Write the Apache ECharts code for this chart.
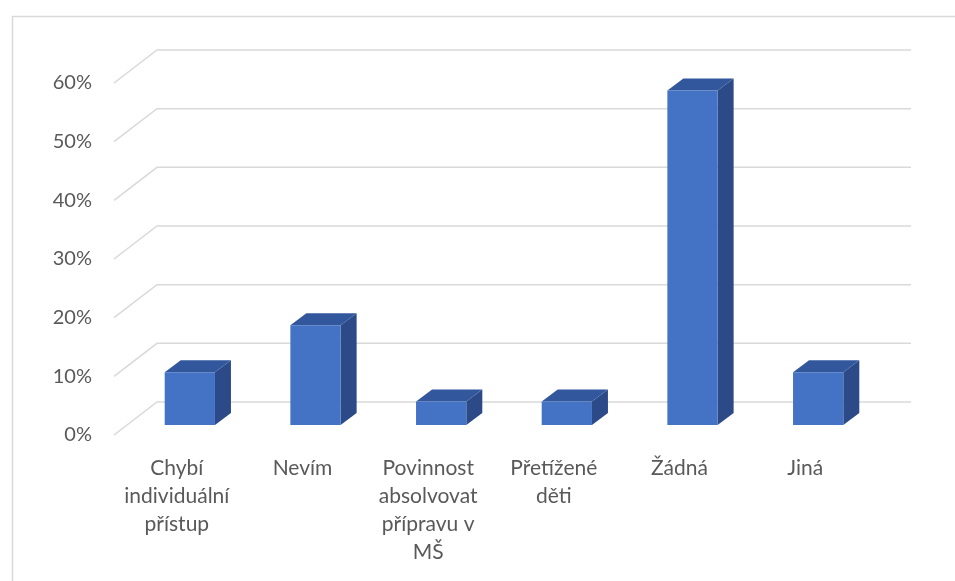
<!DOCTYPE html>
<html>
<head>
<meta charset="utf-8">
<script src="https://cdn.jsdelivr.net/npm/echarts@6/dist/echarts.min.js"></script>
<style>
html,body{margin:0;padding:0;background:#fff;}
#chart{width:955px;height:581px;}
</style>
</head>
<body>
<div id="chart"></div>
<script>
// Data
const categories = ['Chybí\nindividuální\npřístup', 'Nevím', 'Povinnost\nabsolvovat\npřípravu v\nMŠ', 'Přetížené\nděti', 'Žádná', 'Jiná'];
const values = [9, 17, 4, 4, 57, 9];
const yTicks = [0, 10, 20, 30, 40, 50, 60];

const FONT = 'Lato';
const TXT = '#595959';
const GRID_C = '#d9d9d9';
// 3D geometry (pixels)
const WALL_DX = 43, WALL_DY = -33;   // full floor depth
const BAR_DX = 13, BAR_DY = -10;     // bar front offset
const BAR_DEPTH_X = 16, BAR_DEPTH_Y = -12;

const chart = echarts.init(document.getElementById('chart'), null, {renderer: 'canvas'});

const option = {
  animation: false,
  backgroundColor: '#ffffff',
  graphic: [{
    type: 'rect',
    left: 10, top: 14,
    shape: {width: 1000, height: 700},
    style: {fill: 'none', stroke: GRID_C, lineWidth: 1.5},
    z: -10
  }],
  grid: {left: 114, right: 87, top: 83, bottom: 146, containLabel: false},
  xAxis: {
    type: 'category',
    data: categories,
    boundaryGap: true,
    axisLine: {show: false},
    axisTick: {show: false},
    axisLabel: {
      interval: 0,
      margin: 19,
      color: TXT,
      fontFamily: FONT,
      fontSize: 21,
      lineHeight: 28,
      align: 'center'
    },
    splitLine: {show: false}
  },
  yAxis: {
    type: 'value',
    min: 0, max: 60, interval: 10,
    axisLine: {show: false},
    axisTick: {show: false},
    splitLine: {show: false},
    axisLabel: {
      formatter: '{value}%',
      margin: 22,
      color: TXT,
      fontFamily: FONT,
      fontSize: 20
    }
  },
  series: [
    {
      type: 'custom',
      name: 'grid',
      silent: true,
      data: yTicks.map(v => [0, v]),
      encode: {x: 0, y: 1},
      renderItem: function (params, api) {
        const v = api.value(1);
        const bw = api.size([1, 0])[0];
        const p0 = api.coord([0, v]);
        const pN = api.coord([categories.length - 1, v]);
        const xL = p0[0] - bw / 2;
        const xR = pN[0] + bw / 2;
        const y = p0[1];
        return {
          type: 'polyline',
          shape: {points: [[xL, y], [xL + WALL_DX, y + WALL_DY], [xR + WALL_DX, y + WALL_DY]]},
          style: {stroke: GRID_C, lineWidth: 1.5, fill: 'none'}
        };
      },
      z: 1
    },
    {
      type: 'custom',
      name: 'bars',
      data: values.map((v, i) => [i, v]),
      encode: {x: 0, y: 1},
      renderItem: function (params, api) {
        const i = api.value(0);
        const v = api.value(1);
        const base = api.coord([i, 0]);
        const top = api.coord([i, v]);
        const bw = api.size([1, 0])[0] * 0.4;
        const xl = base[0] - bw / 2 + BAR_DX;
        const xr = base[0] + bw / 2 + BAR_DX;
        const yb = base[1] + BAR_DY;
        const yt = top[1] + BAR_DY;
        return {
          type: 'group',
          children: [
            {
              type: 'polygon',
              shape: {points: [[xr, yb], [xr + BAR_DEPTH_X, yb + BAR_DEPTH_Y], [xr + BAR_DEPTH_X, yt + BAR_DEPTH_Y], [xr, yt]]},
              style: {fill: '#2B4A87'}
            },
            {
              type: 'polygon',
              shape: {points: [[xl, yt], [xl + BAR_DEPTH_X, yt + BAR_DEPTH_Y], [xr + BAR_DEPTH_X, yt + BAR_DEPTH_Y], [xr, yt]]},
              style: {fill: '#33579C'}
            },
            {
              type: 'rect',
              shape: {x: xl, y: yt, width: xr - xl, height: yb - yt},
              style: {fill: '#4472C4'}
            }
          ]
        };
      },
      z: 2
    }
  ]
};
chart.setOption(option);
</script>
</body>
</html>
